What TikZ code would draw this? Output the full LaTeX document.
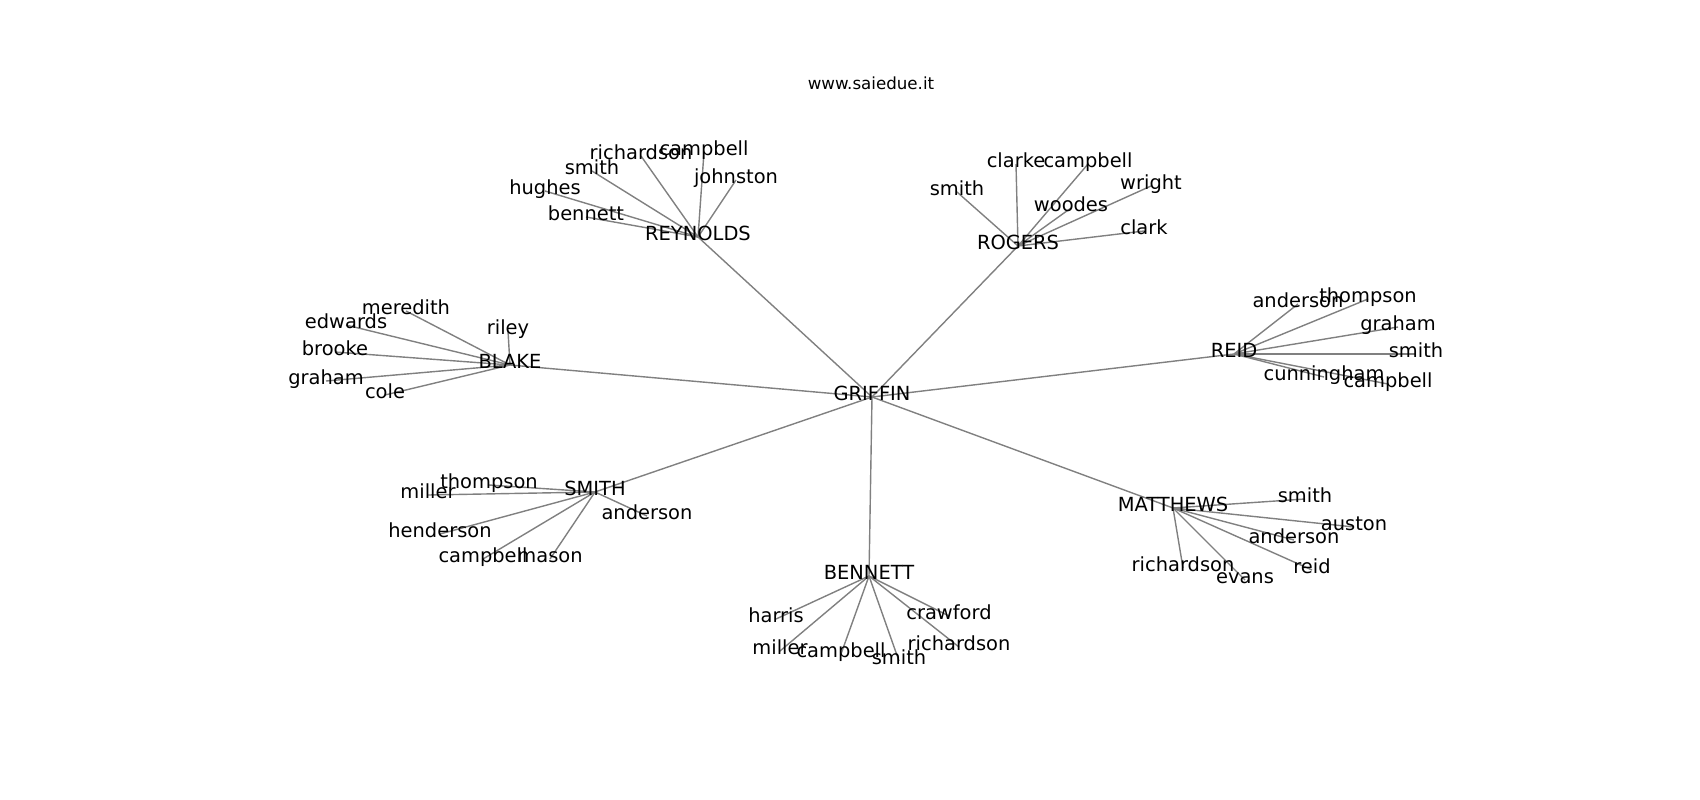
\documentclass[tikz,border=0pt]{standalone}
\usepackage{fontspec}
\setmainfont{DejaVu Sans}
\usetikzlibrary{backgrounds}
\begin{document}
\begin{tikzpicture}[x=1pt, y=-1pt,
  surname/.style={inner sep=0pt, text height=0.73em, text depth=0pt, font=\fontsize{19.44}{23}\selectfont},
  link/.style={draw=gray, line width=1.4pt}]
% Set the canvas size (1 unit = 1 pixel of the picture)
\useasboundingbox (0,-4) rectangle (1700,796);

% Title
\node[surname, font=\fontsize{16.67}{20}\selectfont] (title) at (871,82) {www.saiedue.it};

% Family heads
\node[surname] (griffin) at (872,393) {GRIFFIN};
\node[surname] (reynolds) at (698,233) {REYNOLDS};
\node[surname] (rogers) at (1018,242) {ROGERS};
\node[surname] (blake) at (510,361) {BLAKE};
\node[surname] (reid) at (1234,350) {REID};
\node[surname] (smith) at (595,488) {SMITH};
\node[surname] (bennett) at (869,572) {BENNETT};
\node[surname] (matthews) at (1173,504) {MATTHEWS};

% Reynolds
\node[surname] (rey-richardson) at (641,152) {richardson};
\node[surname] (rey-campbell) at (704,148) {campbell};
\node[surname] (rey-smith) at (592,167) {smith};
\node[surname] (rey-johnston) at (736,176) {johnston};
\node[surname] (rey-hughes) at (545,187) {hughes};
\node[surname] (rey-bennett) at (586,213) {bennett};

% Rogers
\node[surname] (rog-clarke) at (1016,160) {clarke};
\node[surname] (rog-campbell) at (1088,160) {campbell};
\node[surname] (rog-smith) at (957,188) {smith};
\node[surname] (rog-wright) at (1151,182) {wright};
\node[surname] (rog-woodes) at (1071,204) {woodes};
\node[surname] (rog-clark) at (1144,227) {clark};

% Blake
\node[surname] (bla-meredith) at (406,307) {meredith};
\node[surname] (bla-riley) at (508,327) {riley};
\node[surname] (bla-edwards) at (346,321) {edwards};
\node[surname] (bla-brooke) at (335,348) {brooke};
\node[surname] (bla-graham) at (326,377) {graham};
\node[surname] (bla-cole) at (385,391) {cole};

% Reid
\node[surname] (rei-anderson) at (1298,300) {anderson};
\node[surname] (rei-thompson) at (1368,295) {thompson};
\node[surname] (rei-graham) at (1398,323) {graham};
\node[surname] (rei-smith) at (1416,350) {smith};
\node[surname] (rei-cunningham) at (1324,373) {cunningham};
\node[surname] (rei-campbell) at (1388,380) {campbell};

% Smith
\node[surname] (smi-thompson) at (489,481) {thompson};
\node[surname] (smi-miller) at (428,491) {miller};
\node[surname] (smi-anderson) at (647,512) {anderson};
\node[surname] (smi-henderson) at (440,530) {henderson};
\node[surname] (smi-campbell) at (483,555) {campbell};
\node[surname] (smi-mason) at (550,555) {mason};

% Bennett
\node[surname] (ben-harris) at (776,615) {harris};
\node[surname] (ben-crawford) at (949,612) {crawford};
\node[surname] (ben-miller) at (780,647) {miller};
\node[surname] (ben-campbell) at (841,650) {campbell};
\node[surname] (ben-smith) at (899,657) {smith};
\node[surname] (ben-richardson) at (959,643) {richardson};

% Matthews
\node[surname] (mat-smith) at (1305,495) {smith};
\node[surname] (mat-auston) at (1354,523) {auston};
\node[surname] (mat-anderson) at (1294,536) {anderson};
\node[surname] (mat-reid) at (1312,566) {reid};
\node[surname] (mat-richardson) at (1183,564) {richardson};
\node[surname] (mat-evans) at (1245,576) {evans};

% Draw the links behind the names
\begin{scope}[on background layer]
\draw[link] (griffin.center) -- (reynolds.center);
\draw[link] (griffin.center) -- (rogers.center);
\draw[link] (griffin.center) -- (blake.center);
\draw[link] (griffin.center) -- (reid.center);
\draw[link] (griffin.center) -- (smith.center);
\draw[link] (griffin.center) -- (bennett.center);
\draw[link] (griffin.center) -- (matthews.center);
\draw[link] (reynolds.center) -- (rey-richardson.center);
\draw[link] (reynolds.center) -- (rey-campbell.center);
\draw[link] (reynolds.center) -- (rey-smith.center);
\draw[link] (reynolds.center) -- (rey-johnston.center);
\draw[link] (reynolds.center) -- (rey-hughes.center);
\draw[link] (reynolds.center) -- (rey-bennett.center);
\draw[link] (rogers.center) -- (rog-clarke.center);
\draw[link] (rogers.center) -- (rog-campbell.center);
\draw[link] (rogers.center) -- (rog-smith.center);
\draw[link] (rogers.center) -- (rog-wright.center);
\draw[link] (rogers.center) -- (rog-woodes.center);
\draw[link] (rogers.center) -- (rog-clark.center);
\draw[link] (blake.center) -- (bla-meredith.center);
\draw[link] (blake.center) -- (bla-riley.center);
\draw[link] (blake.center) -- (bla-edwards.center);
\draw[link] (blake.center) -- (bla-brooke.center);
\draw[link] (blake.center) -- (bla-graham.center);
\draw[link] (blake.center) -- (bla-cole.center);
\draw[link] (reid.center) -- (rei-anderson.center);
\draw[link] (reid.center) -- (rei-thompson.center);
\draw[link] (reid.center) -- (rei-graham.center);
\draw[link] (reid.center) -- (rei-smith.center);
\draw[link] (reid.center) -- (rei-cunningham.center);
\draw[link] (reid.center) -- (rei-campbell.center);
\draw[link] (smith.center) -- (smi-thompson.center);
\draw[link] (smith.center) -- (smi-miller.center);
\draw[link] (smith.center) -- (smi-anderson.center);
\draw[link] (smith.center) -- (smi-henderson.center);
\draw[link] (smith.center) -- (smi-campbell.center);
\draw[link] (smith.center) -- (smi-mason.center);
\draw[link] (bennett.center) -- (ben-harris.center);
\draw[link] (bennett.center) -- (ben-crawford.center);
\draw[link] (bennett.center) -- (ben-miller.center);
\draw[link] (bennett.center) -- (ben-campbell.center);
\draw[link] (bennett.center) -- (ben-smith.center);
\draw[link] (bennett.center) -- (ben-richardson.center);
\draw[link] (matthews.center) -- (mat-smith.center);
\draw[link] (matthews.center) -- (mat-auston.center);
\draw[link] (matthews.center) -- (mat-anderson.center);
\draw[link] (matthews.center) -- (mat-reid.center);
\draw[link] (matthews.center) -- (mat-richardson.center);
\draw[link] (matthews.center) -- (mat-evans.center);
\end{scope}
\end{tikzpicture}
\end{document}
